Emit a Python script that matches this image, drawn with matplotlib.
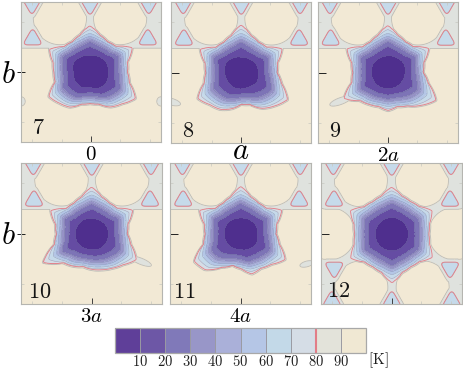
import numpy as np
import matplotlib
matplotlib.use('Agg')
import matplotlib.pyplot as plt
from matplotlib.cm import ScalarMappable
from matplotlib.colors import ListedColormap, BoundaryNorm

plt.rcParams['mathtext.fontset'] = 'cm'
plt.rcParams['font.family'] = ['cmr10', 'DejaVu Sans']
plt.rcParams['axes.formatter.use_mathtext'] = True

W, H = 463, 370

# temperature levels and the colours of the bands
levels = [0, 10, 20, 30, 40, 50, 60, 70, 80, 90, 100]
band_colors = ['#4f2f8e', '#654ca3', '#7d74b6', '#9692c6', '#a9aed8',
               '#b4c6e6', '#c6daea', '#d5dde6', '#dfe2de', '#f2e9d5']
bar_colors = ['#5f3f99', '#6d57a6', '#8079b9', '#9896c8', '#aab0d9',
              '#b5c6e6', '#c3d9e8', '#d5dde6', '#e3e3da', '#f0e8d3']
bar_labels = [10, 20, 30, 40, 50, 60, 70, 80, 90]
red = '#e27d88'

# radius of the 80 K contour, read every 15 degrees (pixels of a 420 px panel)
star_angles = np.arange(0, 360, 15)
star_7 = [112, 116, 147, 110, 106, 116, 140, 116, 106, 110, 140, 114,
          108, 108, 143, 130, 120, 98, 93, 98, 120, 134, 157, 122]
star_8 = [107, 112, 142, 108, 105, 115, 143, 115, 105, 108, 142, 112,
          106, 115, 151, 133, 125, 110, 93, 97, 122, 140, 160, 125]
star_9 = [105, 111, 142, 108, 105, 115, 140, 115, 105, 108, 142, 112,
          105, 112, 153, 118, 110, 105, 113, 105, 115, 139, 166, 125]
star_10 = [105, 111, 141, 108, 106, 115, 140, 115, 106, 108, 141, 111,
           105, 115, 168, 120, 110, 100, 105, 110, 118, 130, 153, 120]
star_11 = [104, 110, 141, 108, 106, 115, 142, 115, 106, 108, 142, 112,
           106, 115, 161, 150, 114, 96, 103, 123, 118, 128, 152, 118]
star_12 = [110, 116, 139, 116, 112, 118, 140, 118, 112, 116, 142, 116,
           110, 116, 142, 116, 112, 118, 145, 118, 112, 116, 139, 116]

# radius of the 10 K core, read every 30 degrees
core_angles = np.arange(0, 360, 30)
core_7 = [55, 58, 55, 50, 55, 58, 50, 52, 52, 45, 55, 58]
core_8 = [52, 52, 48, 47, 52, 55, 50, 48, 50, 48, 48, 55]
core_9 = [52, 55, 52, 50, 50, 52, 50, 50, 50, 47, 50, 50]
core_10 = [50, 50, 48, 46, 50, 50, 50, 50, 48, 47, 50, 50]
core_11 = [50, 52, 50, 48, 50, 52, 50, 50, 48, 47, 52, 55]
core_12 = [50, 50, 50, 50, 50, 50, 50, 50, 50, 50, 50, 50]

# centre of the star in panel fractions
center_x = [0.493, 0.502, 0.500, 0.502, 0.503, 0.502]
center_y = [0.497, 0.497, 0.500, 0.496, 0.496, 0.495]

# grey stubs in the cream part: x, y, half width, half height, angle
stubs_7 = [(0.0, 0.29, 0.03, 0.033, 0), (1.0, 0.29, 0.03, 0.033, 0)]
stubs_8 = [(0.0, 0.293, 0.07, 0.024, -15)]
stubs_9 = [(0.16, 0.297, 0.08, 0.024, 20)]
stubs_10 = [(0.85, 0.303, 0.08, 0.022, -22)]
stubs_11 = [(0.97, 0.284, 0.05, 0.02, 15)]
stubs_12 = []

# cream discs and blue holes between them
discs_top = [(0.285, 0.885, 0.19), (0.715, 0.885, 0.19)]
discs_12 = [(0.281, 0.877, 0.188), (0.714, 0.877, 0.188),
            (0.057, 0.499, 0.186), (0.946, 0.499, 0.186),
            (0.284, 0.118, 0.188), (0.719, 0.118, 0.188)]
# x, y, size, direction of the apex in degrees
holes_top = [(0.09, 0.735, 0.042, 90), (0.913, 0.735, 0.042, 90),
             (0.5, 0.98, 0.042, -90), (0.085, 0.985, 0.042, -90),
             (0.92, 0.985, 0.042, -90)]
holes_12 = holes_top + [(0.092, 0.255, 0.042, -90), (0.913, 0.255, 0.042, -90),
                        (0.5, 0.02, 0.042, 90), (0.075, 0.02, 0.042, 90),
                        (0.925, 0.02, 0.042, 90)]

# for each contour: share of the way from core to mean star, share of the star's tips
level_t = [10, 20, 30, 40, 50, 60, 70, 80]
level_f = [0, 0.31, 0.51, 0.63, 0.74, 0.85, 0.94, 1]
level_g = [0, 0.27, 0.33, 0.33, 0.33, 0.4, 0.65, 1]

panel_names = ['7', '8', '9', '10', '11', '12']
panel_stars = [star_7, star_8, star_9, star_10, star_11, star_12]
panel_cores = [core_7, core_8, core_9, core_10, core_11, core_12]
panel_stubs = [stubs_7, stubs_8, stubs_9, stubs_10, stubs_11, stubs_12]
panel_xlabels = ['$0$', '$a$', '$2a$', '$3a$', '$4a$', None]
xlabel_sizes = [15, 22, 15, 15, 15, 15]
xlabel_pads = [3, -4, 3, 3, 3, 3]
name_x = [0.08, 0.08, 0.08, 0.05, 0.02, 0.04]
name_y = [0.10, 0.08, 0.08, 0.085, 0.08, 0.09]
# left, top, width, height in pixels
panel_boxes = [(21, 2, 140, 140), (171, 2, 140, 141), (318, 2, 140, 141),
               (21, 163, 141, 141), (170, 163, 141, 141), (321, 163, 141, 141)]

grid = np.linspace(0, 1, 420)
X, Y = np.meshgrid(grid, grid)


def smooth_table(values, angles, width=5):
    # periodic table of radius per half degree with some rounding
    deg = np.arange(720) / 2
    table = np.interp(deg, angles, values, period=360)
    kernel = np.ones(width) / width
    return np.convolve(np.r_[table[-width:], table, table[:width]], kernel, 'same')[width:-width]


def panel_field(i):
    dx, dy = X - center_x[i], Y - center_y[i]
    r = np.hypot(dx, dy)
    theta = np.degrees(np.arctan2(dy, dx)) % 360
    idx = (theta * 2).astype(int) % 720
    values = np.array(panel_stars[i]) / 420
    star_r = smooth_table(values, star_angles)[idx]
    mean_r = smooth_table(values, star_angles, 121)[idx]
    core_r = smooth_table(np.array(panel_cores[i]) / 420, core_angles, 31)[idx]

    # contour radii per pixel, the tips fade out towards the core
    radii = [core_r + f * (mean_r - core_r) + g * (star_r - mean_r)
             for f, g in zip(level_f, level_g)]
    radii.append(star_r + 4 / 420)
    radii.append(star_r + 7 / 420)
    temps = level_t + [90, 99]
    t_star = 10 * r / core_r
    for k in range(len(temps) - 1):
        gap = np.maximum(radii[k + 1] - radii[k], 1e-4)
        part = np.clip((r - radii[k]) / gap, 0, 1)
        t_star = np.where(r >= radii[k], temps[k] + (temps[k + 1] - temps[k]) * part, t_star)

    # channels around the star, 85 K except inside discs
    t_chan = np.full_like(X, 85.0)
    if i == 5:
        discs = discs_12
        holes = holes_12
    else:
        discs = discs_top
        holes = holes_top
        t_chan = np.maximum(t_chan, 90 + (0.67 - Y) * 300)
    shift = center_x[i] - 0.5
    for cx, cy, rad in discs:
        t_chan = np.maximum(t_chan, 90 + (rad - np.hypot(X - cx - shift, Y - cy)) * 300)
    for cx, cy, w, h, ang in panel_stubs[i]:
        a = np.radians(ang)
        xr = (X - cx) * np.cos(a) + (Y - cy) * np.sin(a)
        yr = -(X - cx) * np.sin(a) + (Y - cy) * np.cos(a)
        t_chan = np.minimum(t_chan, np.maximum(85, 90 + (np.hypot(xr / w, yr / h) - 1) * 40))
    for cx, cy, size, apex in holes:
        # rounded triangle from its three edge normals
        rho = 0
        for k in [60, 180, 300]:
            n = np.radians(apex + k)
            d = np.maximum((X - cx - shift) * np.cos(n) + (Y - cy) * np.sin(n), 0)
            rho = rho + d ** 3
        rho = rho ** (1 / 3) / size
        t_chan = np.minimum(t_chan, np.where(rho < 1.5, np.clip(80 + (rho - 1) * 200, 65, 85), 100))
    return np.clip(np.minimum(t_star, t_chan), 0, 99)


cmap = ListedColormap(band_colors)
norm = BoundaryNorm(levels, cmap.N)

fig = plt.figure(figsize=(W / 100, H / 100), dpi=100)

for i, name in enumerate(panel_names):
    left, top, w, h = panel_boxes[i]
    ax = fig.add_axes([left / W, 1 - (top + h) / H, w / W, h / H])
    field = panel_field(i)
    ax.contourf(X, Y, field, levels=levels, cmap=cmap, norm=norm)
    ax.contour(X, Y, field, levels=[10, 20, 30, 40, 50, 60, 70],
               colors='#60608c', linewidths=0.4, alpha=0.45)
    ax.contour(X, Y, field, levels=[90], colors='#bcbcb8', linewidths=0.6)
    ax.contour(X, Y, field, levels=[80], colors=red, linewidths=0.6)
    ax.set_xlim(0, 1)
    ax.set_ylim(0, 1)
    ax.set_aspect('auto')

    # light minor ticks on all sides, dark major ticks at the centre
    ax.set_xticks([0.08, 0.29, 0.71, 0.92], minor=True)
    ax.set_yticks([0.14, 0.86], minor=True)
    ax.tick_params(which='minor', direction='in', length=2, width=0.5,
                   color='#c8c8c0', top=True, right=True)
    if panel_xlabels[i] is not None:
        ax.set_xticks([0.5], [panel_xlabels[i]])
    else:
        ax.set_xticks([0.5], [''])
    ax.set_yticks([0.5], ['$b$'] if i in (0, 3) else [''])
    ax.tick_params(axis='x', which='major', direction='in', length=4, width=0.7,
                   color='#404040', labelsize=xlabel_sizes[i], pad=xlabel_pads[i])
    ax.tick_params(axis='y', which='major', direction='inout' if i in (0, 3) else 'in',
                   length=6, width=0.7, color='#202020', labelsize=22, pad=1)
    for s in ax.spines.values():
        s.set_color('#b5b5b0')
        s.set_linewidth(0.8)
    ax.text(name_x[i], name_y[i], f'${name}$', transform=ax.transAxes, fontsize=16,
            color='#151515', ha='left', va='center')

# colorbar
cax = fig.add_axes([115 / W, 1 - 353 / H, 251 / W, 25 / H])
bar_mappable = ScalarMappable(norm=norm, cmap=ListedColormap(bar_colors))
cbar = fig.colorbar(bar_mappable, cax=cax, orientation='horizontal', drawedges=True, spacing='proportional')
cbar.dividers.set_color('#9a9aa2')
cbar.dividers.set_linewidth(0.7)
cbar.outline.set_edgecolor('#a8a8a8')
cbar.outline.set_linewidth(0.9)
cbar.set_ticks(bar_labels, labels=[f'${v}$' for v in bar_labels])
cbar.ax.tick_params(length=0, labelsize=10.5, pad=1, labelcolor='#202020')
cbar.ax.minorticks_off()
cax.axvline(80, color=red, lw=1.5)
fig.text(378 / W, 1 - 360 / H, r'$[\mathrm{K}]$', fontsize=11, ha='center', va='center',
         color='#202020')

fig.savefig('out.png', dpi=100)
